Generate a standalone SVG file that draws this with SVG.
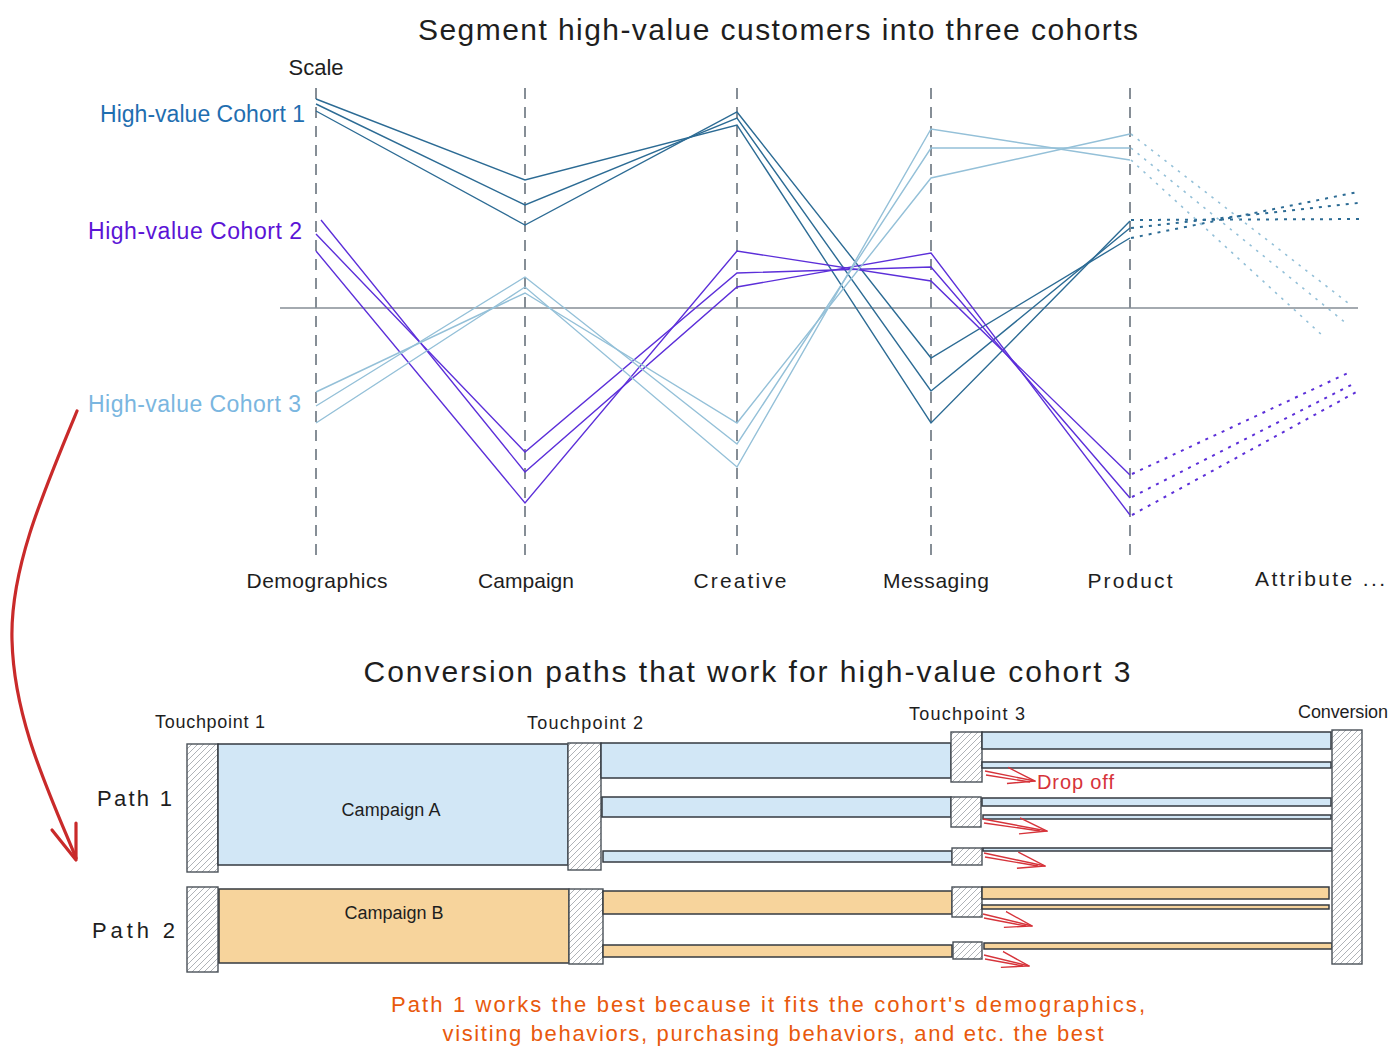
<svg xmlns="http://www.w3.org/2000/svg" width="1400" height="1060" viewBox="0 0 1400 1060">
<defs>
<pattern id="hatch" patternUnits="userSpaceOnUse" width="6" height="6">
<rect width="6" height="6" fill="#ffffff"/>
<path d="M0,6 L6,0 M-1.5,1.5 L1.5,-1.5 M4.5,7.5 L7.5,4.5" stroke="#9aa0a6" stroke-width="0.8"/>
</pattern>
<marker id="redHead" viewBox="0 0 30 20" refX="29" refY="10" markerWidth="30" markerHeight="20" markerUnits="userSpaceOnUse" orient="auto">
<path d="M0,2 L29,10 L2,18" fill="none" stroke="#d6333a" stroke-width="1.4"/>
</marker>
</defs>
<style>
text{font-family:"Liberation Sans",Arial,sans-serif;}
.title{font-size:30px;fill:#1e1e1e;}
.axlbl{font-size:21px;fill:#1e1e1e;text-anchor:middle;}
.axis{stroke:#868e96;stroke-width:2;stroke-dasharray:11 8;fill:none;}
.base{stroke:#868e96;stroke-width:1.5;fill:none;}
.c1{stroke:#2c6b94;stroke-width:1.4;fill:none;}
.c2{stroke:#5c2fd9;stroke-width:1.4;fill:none;}
.c3{stroke:#94c0d8;stroke-width:1.4;fill:none;}
.d1{stroke:#2c6b94;stroke-width:2;stroke-dasharray:3 6;fill:none;}
.d2{stroke:#5c2fd9;stroke-width:2;stroke-dasharray:3 6;fill:none;}
.d3{stroke:#94c0d8;stroke-width:1.6;stroke-dasharray:2.5 6;fill:none;}
.hatch{fill:url(#hatch);stroke:#495057;stroke-width:1.4;}
.blue{fill:#d2e7f6;stroke:#343a40;stroke-width:1.5;}
.orange{fill:#f7d49c;stroke:#343a40;stroke-width:1.5;}
.tp{font-size:18px;fill:#1e1e1e;}
.path{font-size:22px;fill:#1e1e1e;}
.camp{font-size:18px;fill:#1e1e1e;text-anchor:middle;}
.drop{stroke:#d6333a;stroke-width:1.4;fill:none;}
.note{font-size:22px;fill:#e8590c;text-anchor:middle;}
</style>

<g id="titles">
<text class="title" x="778" y="40" text-anchor="middle" textLength="720">Segment high-value customers into three cohorts</text>
<text class="title" x="747" y="682" text-anchor="middle" textLength="767">Conversion paths that work for high-value cohort 3</text>
<text x="316" y="75" font-size="22" fill="#1e1e1e" text-anchor="middle">Scale</text>
</g>

<g id="axes">
<line class="axis" x1="316" y1="88" x2="316" y2="555"/>
<line class="axis" x1="525" y1="88" x2="525" y2="555"/>
<line class="axis" x1="737" y1="88" x2="737" y2="555"/>
<line class="axis" x1="931" y1="88" x2="931" y2="555"/>
<line class="axis" x1="1130" y1="88" x2="1130" y2="555"/>
<line class="base" x1="280" y1="308" x2="1358" y2="308"/>
<text class="axlbl" x="317" y="588" textLength="141">Demographics</text>
<text class="axlbl" x="526" y="588" textLength="96">Campaign</text>
<text class="axlbl" x="740" y="588" textLength="93">Creative</text>
<text class="axlbl" x="936" y="588" textLength="106">Messaging</text>
<text class="axlbl" x="1130" y="588" textLength="85">Product</text>
<text class="axlbl" x="1320" y="586" textLength="130">Attribute ...</text>
</g>

<g id="cohort-labels">
<text x="305" y="122" font-size="23" fill="#1f6eb0" text-anchor="end" textLength="205">High-value Cohort 1</text>
<text x="302" y="239" font-size="23" fill="#5b14d6" text-anchor="end" textLength="214">High-value Cohort 2</text>
<text x="301" y="412" font-size="23" fill="#7ab6e0" text-anchor="end" textLength="213">High-value Cohort 3</text>
</g>

<g id="cohort1-lines">
<polyline class="c1" points="316,99 525,180 737,125 931,423 1130,221"/>
<polyline class="c1" points="316,104 525,205 737,118 931,391 1130,228"/>
<polyline class="c1" points="316,111 525,225 737,112 931,358 1130,238"/>
<line class="d1" x1="1131" y1="220" x2="1362" y2="219"/>
<line class="d1" x1="1131" y1="228" x2="1358" y2="203"/>
<line class="d1" x1="1131" y1="238" x2="1358" y2="192"/>
</g>

<g id="cohort2-lines">
<polyline class="c2" points="321,220 525,472 737,287 931,253 1130,515"/>
<polyline class="c2" points="316,234 525,452 737,273 931,267 1130,498"/>
<polyline class="c2" points="316,251 525,503 737,251 931,281 1130,475"/>
<line class="d2" x1="1132" y1="515" x2="1360" y2="390"/>
<line class="d2" x1="1132" y1="497" x2="1355" y2="383"/>
<line class="d2" x1="1132" y1="474" x2="1348" y2="373"/>
</g>

<g id="cohort3-lines">
<polyline class="c3" points="316,392 525,293 737,423 931,178 1130,134"/>
<polyline class="c3" points="316,406 525,277 737,444 931,148 1130,148"/>
<polyline class="c3" points="316,423 525,287 737,467 931,129 1130,160"/>
<line class="d3" x1="1131" y1="134" x2="1348" y2="303"/>
<line class="d3" x1="1131" y1="148" x2="1347" y2="324"/>
<line class="d3" x1="1131" y1="160" x2="1323" y2="336"/>
</g>

<g id="path-labels">
<text class="tp" x="155" y="728" textLength="110">Touchpoint 1</text>
<text class="tp" x="527" y="729" textLength="116">Touchpoint 2</text>
<text class="tp" x="909" y="720" textLength="116">Touchpoint 3</text>
<text class="tp" x="1298" y="718" textLength="90">Conversion</text>
<text class="path" x="97" y="806" textLength="75">Path 1</text>
<text class="path" x="92" y="938" textLength="83">Path 2</text>
</g>

<g id="tp1-path1"><rect class="hatch" x="187" y="744" width="31" height="128"/></g>
<g id="campaign-a"><rect class="blue" x="218" y="744" width="350" height="121"/><text class="camp" x="391" y="816" textLength="99">Campaign A</text></g>
<g id="tp2-path1"><rect class="hatch" x="568" y="743" width="33" height="127"/></g>

<g id="tp1-path2"><rect class="hatch" x="187" y="887" width="31" height="85"/></g>
<g id="campaign-b"><rect class="orange" x="219" y="889" width="350" height="74"/><text class="camp" x="394" y="919" textLength="99">Campaign B</text></g>
<g id="tp2-path2"><rect class="hatch" x="569" y="889" width="34" height="75"/></g>

<g id="tp2-tp3-bars">
<rect class="blue" x="601" y="743" width="350" height="35"/>
<rect class="blue" x="602" y="797" width="349" height="20"/>
<rect class="blue" x="603" y="851" width="349" height="11"/>
<rect class="orange" x="603" y="891" width="349" height="23"/>
<rect class="orange" x="603" y="945" width="349" height="12"/>
</g>

<g id="tp3-boxes">
<rect class="hatch" x="951" y="732" width="31" height="50"/>
<rect class="hatch" x="951" y="797" width="30" height="30"/>
<rect class="hatch" x="952" y="848" width="30" height="17"/>
<rect class="hatch" x="952" y="887" width="30" height="30"/>
<rect class="hatch" x="953" y="942" width="29" height="17"/>
</g>

<g id="tp3-conversion-bars">
<rect class="blue" x="982" y="732" width="349" height="17"/>
<rect class="blue" x="982" y="762" width="349" height="6"/>
<rect class="blue" x="982" y="798" width="349" height="8"/>
<rect class="blue" x="983" y="815" width="348" height="4"/>
<rect class="blue" x="983" y="848" width="349" height="3"/>
<rect class="orange" x="982" y="887" width="347" height="12"/>
<rect class="orange" x="982" y="905" width="347" height="4"/>
<rect class="orange" x="984" y="943" width="348" height="6"/>
</g>

<g id="conversion"><rect class="hatch" x="1332" y="730" width="30" height="234"/></g>

<g id="connectors">
<path d="M77,411 C42,495 10,570 12,640 C14,720 48,790 76,858" fill="none" stroke="#c92a2a" stroke-width="3.2" stroke-linecap="round"/>
<path d="M52,830 L76,860 L76,823" fill="none" stroke="#c92a2a" stroke-width="3.2" stroke-linecap="round" stroke-linejoin="round"/>
<path class="drop" d="M985,771 L1035,781" marker-end="url(#redHead)"/>
<path class="drop" d="M986,775 L1030,782"/>
<path class="drop" d="M983,819 L1047,831" marker-end="url(#redHead)"/>
<path class="drop" d="M984,823 L1040,831"/>
<path class="drop" d="M984,853 L1045,866" marker-end="url(#redHead)"/>
<path class="drop" d="M985,857 L1038,866"/>
<path class="drop" d="M983,914 L1032,926" marker-end="url(#redHead)"/>
<path class="drop" d="M984,918 L1026,926"/>
<path class="drop" d="M984,955 L1029,966" marker-end="url(#redHead)"/>
<path class="drop" d="M985,959 L1023,966"/>
<text x="1037" y="789" font-size="20" fill="#d6333a" textLength="77">Drop off</text>
</g>

<g id="note">
<text class="note" x="768" y="1012" textLength="754">Path 1 works the best because it fits the cohort's demographics,</text>
<text class="note" x="773" y="1041" textLength="661">visiting behaviors, purchasing behaviors, and etc. the best</text>
</g>
</svg>
